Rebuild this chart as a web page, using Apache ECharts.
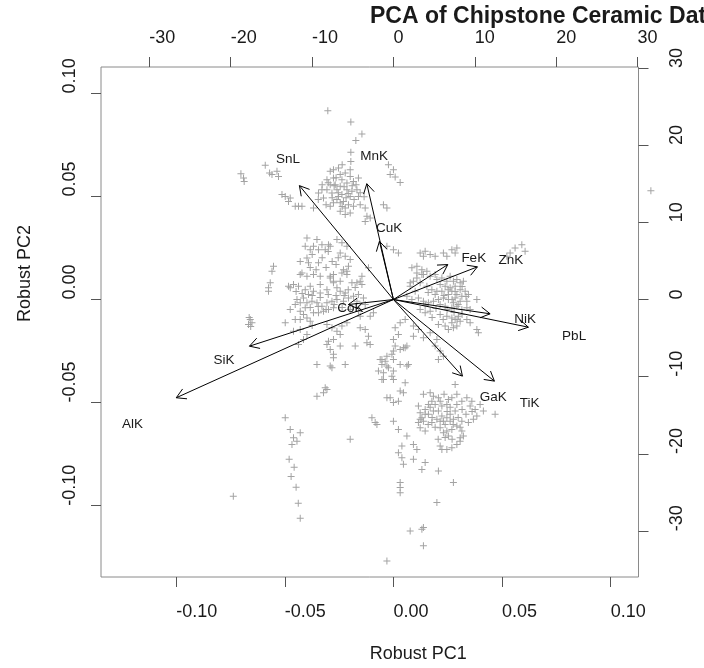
<!DOCTYPE html>
<html>
<head>
<meta charset="utf-8">
<script src="https://cdn.jsdelivr.net/npm/echarts@6/dist/echarts.min.js"></script>
<style>
html, body { margin: 0; padding: 0; background: #fff; }
#chart { width: 704px; height: 668px; }
</style>
</head>
<body>
<div id="chart"></div>
<script>
// axis ticks
const pcTicks = [-0.10, -0.05, 0, 0.05, 0.10]
const loadTicks = [-30, -20, -10, 0, 10, 20, 30]
const pcLim = [-0.1346, 0.1128]
const loadRatio = 267

// variable loadings (top / right axes)
const elements = ['SnL', 'MnK', 'CuK', 'FeK', 'ZnK', 'NiK', 'PbL', 'GaK', 'TiK', 'CoK', 'SiK', 'AlK']
const loadPC1 = [-14.44, -4.09, -2.15, 8.35, 12.90, 14.85, 20.73, 10.60, 15.51, -6.91, -22.11, -33.36]
const loadPC2 = [18.44, 18.75, 9.43, 5.66, 5.29, -2.31, -4.48, -12.40, -13.21, -0.81, -7.55, -15.90]

// sample scores (bottom / left axes)
const upperGroup = [
  [-0.0302,0.0916],[-0.0196,0.0861],[-0.0145,0.0803],[-0.0173,0.0772],[-0.0196,0.0714],[-0.0196,0.0670],
  [-0.0590,0.0651],[-0.0570,0.0614],[-0.0559,0.0606],[-0.0536,0.0622],[-0.0529,0.0597],
  [-0.0702,0.0610],[-0.0690,0.0590],[-0.0687,0.0573],
  [-0.0023,0.0654],[0.0000,0.0630],[-0.0015,0.0606],[0.0008,0.0594],[0.0031,0.0568],
  [-0.0291,0.0622],[-0.0253,0.0638],[-0.0245,0.0606],[-0.0306,0.0581],[-0.0276,0.0590],[-0.0237,0.0581],
  [-0.0214,0.0565],[-0.0184,0.0573],[-0.0161,0.0590],
  [-0.0306,0.0533],[-0.0283,0.0517],[-0.0260,0.0533],[-0.0237,0.0509],[-0.0214,0.0533],[-0.0191,0.0525],[-0.0168,0.0533],
  [-0.0260,0.0485],[-0.0230,0.0476],[-0.0207,0.0460],[-0.0184,0.0452],[-0.0291,0.0452],[-0.0245,0.0428],[-0.0222,0.0412],[-0.0199,0.0420],
  [-0.0322,0.0493],[-0.0345,0.0517],[-0.0368,0.0444],[-0.0161,0.0500],[-0.0153,0.0460],[-0.0130,0.0444],
  [-0.0276,0.0630],[-0.0222,0.0614],[-0.0199,0.0597],[-0.0268,0.0557],[-0.0245,0.0549],[-0.0291,0.0557],
  [-0.0329,0.0533],[-0.0199,0.0500],[-0.0253,0.0500],[-0.0222,0.0444],[-0.0276,0.0469],
  [-0.0513,0.0509],[-0.0498,0.0500],[-0.0475,0.0493],[-0.0452,0.0452],[-0.0437,0.0452],[-0.0421,0.0452],[-0.0483,0.0476],
  [-0.0046,0.0460],[-0.0030,0.0444],[-0.0122,0.0404],[-0.0130,0.0379],[-0.0107,0.0396]
]
const midLeftGroup = [
  [-0.0398,0.0299],[-0.0352,0.0291],[-0.0329,0.0266],[-0.0299,0.0266],[-0.0368,0.0258],[-0.0406,0.0258],
  [-0.0383,0.0242],[-0.0345,0.0242],[-0.0314,0.0242],[-0.0291,0.0258],[-0.0260,0.0291],[-0.0237,0.0275],
  [-0.0214,0.0258],[-0.0245,0.0226],[-0.0222,0.0210],[-0.0199,0.0194],[-0.0207,0.0161],[-0.0230,0.0145],[-0.0214,0.0137],
  [-0.0398,0.0202],[-0.0391,0.0178],[-0.0345,0.0178],[-0.0552,0.0161],[-0.0559,0.0137],[-0.0421,0.0129],
  [-0.0398,0.0113],[-0.0368,0.0121],[-0.0337,0.0113],[-0.0291,0.0113],[-0.0276,0.0089],[-0.0245,0.0089],
  [-0.0168,0.0081],[-0.0145,0.0113],[-0.0115,0.0154],
  [-0.0383,0.0064],[-0.0437,0.0064],[-0.0475,0.0057],[-0.0567,0.0081],[-0.0575,0.0057],
  [-0.0575,0.0040],[-0.0483,0.0064],[-0.0460,0.0073],[-0.0429,0.0121],[-0.0337,0.0073],[-0.0291,0.0105],
  [-0.0276,0.0121],[-0.0237,0.0129],[-0.0214,0.0121],[-0.0191,0.0081],[-0.0153,0.0089],[-0.0145,0.0073],
  [-0.0276,0.0081],[-0.0260,0.0057],[-0.0245,0.0040],[-0.0222,0.0032],[-0.0306,0.0048],[-0.0337,0.0032],
  [-0.0368,0.0040],[-0.0391,0.0024],[-0.0414,0.0008],[-0.0444,0.0000],[-0.0452,-0.0024],[-0.0429,-0.0016],
  [-0.0398,-0.0016],[-0.0375,-0.0008],[-0.0352,-0.0016],[-0.0329,-0.0032],[-0.0306,-0.0016],[-0.0283,-0.0008],
  [-0.0260,0.0000],[-0.0230,-0.0008],[-0.0207,0.0008],[-0.0184,0.0016],[-0.0161,0.0024],[-0.0138,0.0008],[-0.0168,-0.0008],
  [-0.0429,-0.0057],[-0.0414,-0.0073],[-0.0398,-0.0089],[-0.0383,-0.0105],[-0.0368,-0.0064],[-0.0345,-0.0064],
  [-0.0322,-0.0057],[-0.0299,-0.0048],[-0.0276,-0.0040],[-0.0161,-0.0057],[-0.0153,-0.0081],[-0.0107,-0.0081],
  [-0.0092,-0.0064],[-0.0406,-0.0040],[-0.0452,-0.0097],[-0.0498,-0.0113],[-0.0460,-0.0154],[-0.0429,-0.0145],
  [-0.0398,-0.0170],[-0.0414,-0.0194],[-0.0437,-0.0218],
  [-0.0306,-0.0121],[-0.0283,-0.0137],[-0.0260,-0.0154],[-0.0237,-0.0129],[-0.0214,-0.0113],[-0.0245,-0.0170],
  [-0.0276,-0.0194],[-0.0299,-0.0202],[-0.0306,-0.0218],[-0.0291,-0.0242],[-0.0276,-0.0266],[-0.0276,-0.0282],
  [-0.0245,-0.0226],[-0.0176,-0.0226],[-0.0153,-0.0137],[-0.0130,-0.0145],[-0.0115,-0.0178],[-0.0122,-0.0210],[-0.0107,-0.0218],
  [-0.0659,-0.0097],[-0.0651,-0.0113],[-0.0667,-0.0121],[-0.0664,-0.0087],[-0.0657,-0.0131],
  [-0.0352,-0.0315],[-0.0291,-0.0323],[-0.0283,-0.0331],[-0.0222,-0.0315]
]
const lowerLeftGroup = [
  [-0.0352,-0.0469],[-0.0322,-0.0452],[-0.0306,-0.0436],[-0.0314,-0.0428],[-0.0498,-0.0573],[-0.0475,-0.0630],
  [-0.0460,-0.0670],[-0.0444,-0.0687],[-0.0429,-0.0646],[-0.0467,-0.0703],[-0.0199,-0.0678],[-0.0099,-0.0573],
  [-0.0084,-0.0597],[-0.0076,-0.0606],
  [-0.0737,-0.0954],[-0.0480,-0.0775],[-0.0457,-0.0814],[-0.0471,-0.0858],[-0.0448,-0.0911],[-0.0438,-0.0988],[-0.0429,-0.1061]
]
const rightGroup = [
  [-0.0030,0.0258],[0.0000,0.0242],[0.0023,0.0226],[0.0123,0.0226],[0.0138,0.0210],[0.0085,0.0154],[0.0108,0.0129],
  [0.0131,0.0121],[0.0154,0.0137],[0.0108,0.0105],[0.0077,0.0081],
  [0.0146,0.0234],[0.0169,0.0218],[0.0192,0.0210],[0.0230,0.0226],[0.0246,0.0210],[0.0269,0.0242],[0.0284,0.0226],[0.0292,0.0250],
  [0.0560,0.0250],[0.0591,0.0266],[0.0606,0.0234],[0.0537,0.0226],[0.0522,0.0210],
  [0.0108,0.0161],[0.0131,0.0145],[0.0138,0.0121],[0.0169,0.0113],[0.0192,0.0121],[0.0200,0.0097],[0.0223,0.0105],
  [0.0246,0.0089],[0.0261,0.0113],[0.0276,0.0089],[0.0292,0.0097],[0.0307,0.0081],[0.0322,0.0089],[0.0238,0.0064],
  [0.0261,0.0057],[0.0284,0.0064],[0.0307,0.0048],[0.0330,0.0040],[0.0223,0.0040],[0.0200,0.0040],[0.0177,0.0048],
  [0.0154,0.0064],[0.0123,0.0081],[0.0092,0.0089],[0.0077,0.0064],[0.0100,0.0040],[0.0062,0.0016],[0.0085,0.0000],
  [0.0115,0.0008],[0.0138,-0.0008],[0.0161,-0.0016],[0.0184,-0.0008],[0.0207,0.0000],[0.0230,0.0008],[0.0253,0.0000],
  [0.0284,0.0008],[0.0307,-0.0008],[0.0338,-0.0008],[0.0384,0.0000],[0.0345,0.0024],[0.0238,-0.0032],[0.0269,-0.0040],
  [0.0292,-0.0032],[0.0315,-0.0048],[0.0338,-0.0040],[0.0123,-0.0048],[0.0146,-0.0064],[0.0169,-0.0057],[0.0215,-0.0073],
  [0.0246,-0.0081],[0.0269,-0.0089],[0.0284,-0.0097],[0.0307,-0.0105],[0.0338,-0.0097],[0.0353,-0.0113],[0.0384,-0.0145],
  [0.0391,-0.0161],[0.0207,-0.0121],[0.0238,-0.0129],[0.0253,-0.0145],[0.0276,-0.0137],[0.0292,-0.0129],[0.0092,-0.0129],
  [0.0115,-0.0145],[0.0031,-0.0113],[0.0054,-0.0097],[0.0008,-0.0137],[0.0023,-0.0170],[0.0000,-0.0194],[0.0008,-0.0226],
  [0.0031,-0.0242],[0.0054,-0.0234],[0.0092,-0.0178],[0.0138,-0.0186],[0.0169,-0.0161],[0.0200,-0.0194],[0.0192,-0.0226],
  [0.0215,-0.0250],[0.0230,-0.0275],[0.0207,-0.0291],[-0.0030,-0.0275],[0.0000,-0.0291],[0.0031,-0.0315],[0.0062,-0.0323],
  [-0.0061,-0.0291],
  [0.0269,0.0040],[0.0292,0.0024],[0.0315,0.0016],[0.0253,0.0024],[0.0276,-0.0016],[0.0299,-0.0081],[0.0269,-0.0113]
]
const centerColumn = [
  [0.0000,-0.0250],[-0.0007,-0.0266],[-0.0038,-0.0299],[-0.0053,-0.0315],[-0.0030,-0.0323],[0.0069,-0.0315],
  [0.0046,-0.0234],[0.0062,-0.0226],[0.0000,-0.0347],[-0.0007,-0.0372],[-0.0046,-0.0388],[0.0000,-0.0388],
  [0.0054,-0.0404],[0.0031,-0.0444],[0.0046,-0.0452],[-0.0015,-0.0476],[0.0023,-0.0493],[0.0000,-0.0500],
  [-0.0053,-0.0291],[-0.0069,-0.0347],[-0.0046,-0.0355],[-0.0053,-0.0388],[-0.0023,-0.0331],[-0.0030,-0.0476]
]
const lowerRightGroup = [
  [0.0138,-0.0460],[0.0169,-0.0452],[0.0184,-0.0469],[0.0207,-0.0476],[0.0177,-0.0493],[0.0161,-0.0509],[0.0146,-0.0533],
  [0.0115,-0.0517],[0.0123,-0.0549],[0.0131,-0.0573],[0.0115,-0.0597],[0.0138,-0.0590],[0.0161,-0.0557],[0.0184,-0.0541],
  [0.0207,-0.0541],[0.0223,-0.0565],[0.0200,-0.0581],[0.0230,-0.0590],[0.0246,-0.0573],[0.0261,-0.0557],[0.0238,-0.0606],
  [0.0215,-0.0622],[0.0246,-0.0638],[0.0269,-0.0630],[0.0292,-0.0614],[0.0315,-0.0590],[0.0315,-0.0638],[0.0322,-0.0662],
  [0.0307,-0.0670],[0.0284,-0.0541],[0.0292,-0.0509],[0.0315,-0.0493],[0.0338,-0.0476],[0.0361,-0.0493],[0.0292,-0.0460],
  [0.0284,-0.0412],[0.0269,-0.0476],[0.0253,-0.0485],[0.0246,-0.0509],[0.0353,-0.0517],[0.0376,-0.0533],[0.0399,-0.0509],
  [0.0414,-0.0541],[0.0468,-0.0557],[0.0384,-0.0565],[0.0368,-0.0581],[0.0345,-0.0597],[0.0123,-0.0622],[0.0146,-0.0638],
  [0.0177,-0.0597],[0.0215,-0.0711],[0.0223,-0.0727],[0.0246,-0.0727],[0.0269,-0.0719],[0.0292,-0.0703],[0.0307,-0.0687],
  [0.0261,-0.0590],[0.0276,-0.0581],[0.0223,-0.0517],[0.0192,-0.0509],[0.0230,-0.0646],[0.0253,-0.0662]
]
const bottomTail = [
  [0.0000,-0.0590],[0.0023,-0.0630],[0.0062,-0.0662],[0.0092,-0.0703],[0.0108,-0.0727],[0.0039,-0.0711],[0.0023,-0.0743],
  [0.0039,-0.0767],[0.0046,-0.0799],[0.0092,-0.0775],[0.0131,-0.0824],[0.0146,-0.0791],[0.0207,-0.0832],[0.0276,-0.0888],
  [0.0031,-0.0888],[0.0031,-0.0912],[0.0031,-0.0937],[0.0200,-0.0985],[0.0138,-0.1106],[0.0131,-0.1114],[0.0077,-0.1123],
  [0.0138,-0.1195],[-0.0030,-0.1268]
]
// heavily overplotted cores of the clusters
const denseCores = [
  [-0.0300,0.0567],[-0.0264,0.0591],[-0.0227,0.0547],[-0.0190,0.0552],[-0.0254,0.0518],[-0.0218,0.0494],[-0.0181,0.0485],
  [-0.0282,0.0494],[-0.0310,0.0460],[-0.0236,0.0451],[-0.0208,0.0514],[-0.0172,0.0557],[-0.0273,0.0552],[-0.0245,0.0470],
  [-0.0153,0.0518],[-0.0328,0.0557],[-0.0199,0.0630],[-0.0236,0.0654],[-0.0135,0.0499],[-0.0346,0.0485],
  [0.0215,0.0073],[0.0252,0.0048],[0.0284,0.0039],[0.0316,0.0063],[0.0233,0.0019],[0.0270,0.0000],[0.0298,-0.0024],
  [0.0247,-0.0048],[0.0279,-0.0063],[0.0316,-0.0073],[0.0215,-0.0024],[0.0192,0.0024],[0.0160,0.0034],[0.0334,0.0015],
  [0.0353,-0.0048],[0.0293,-0.0097],[0.0229,-0.0097],[0.0178,-0.0087],[0.0146,-0.0029],[0.0196,-0.0044],
  [0.0146,-0.0557],[0.0178,-0.0572],[0.0215,-0.0591],[0.0247,-0.0543],[0.0275,-0.0606],[0.0307,-0.0620],[0.0192,-0.0620],
  [0.0160,-0.0606],[0.0238,-0.0669],[0.0270,-0.0678],[0.0206,-0.0678],[0.0334,-0.0557],[0.0362,-0.0543],[0.0298,-0.0572],
  [0.0169,-0.0523],[0.0215,-0.0494],[0.0261,-0.0523],[0.0316,-0.0533],[0.0233,-0.0460],[0.0123,-0.0581],
  [-0.0406,0.0048],[-0.0374,0.0019],[-0.0337,0.0010],[-0.0300,0.0024],[-0.0264,0.0019],[-0.0227,0.0019],[-0.0346,-0.0034],
  [-0.0310,-0.0048],[-0.0273,-0.0024],[-0.0236,-0.0039],[-0.0199,-0.0048],[-0.0383,-0.0039],[-0.0420,0.0029],[-0.0448,0.0039],
  [-0.0208,0.0048],[-0.0176,0.0058],[-0.0130,-0.0024],[-0.0475,-0.0048],[-0.0429,-0.0097],[-0.0374,-0.0126],
  [-0.0374,0.0218],[-0.0328,0.0203],[-0.0282,0.0184],[-0.0310,0.0155],[-0.0356,0.0145],[-0.0254,0.0203],[-0.0383,0.0155],
  [-0.0429,0.0184],[-0.0300,0.0233],[-0.0264,0.0170]
]
// lone point drawn just past the right frame, as in the source plot
const outliers = [[0.1185, 0.0528]]

const scores = [].concat(upperGroup, midLeftGroup, lowerLeftGroup, rightGroup, centerColumn, lowerRightGroup, bottomTail, denseCores, outliers)
const loadings = elements.map((name, i) => [loadPC1[i], loadPC2[i]])

const font = 'Liberation Sans'
const textColor = '#1a1a1a'
const tickColor = '#555'
const pointColor = '#a3a3a3'

const chart = echarts.init(document.getElementById('chart'))

const labelStyle = { fontFamily: font, fontSize: 18, color: textColor }
const noLine = { show: false, onZero: false }

// arrow to 0.8 * loading, label starting at the loading itself
const renderLoading = function (params, api) {
    const u = api.value(0)
    const v = api.value(1)
    const o = api.coord([0, 0])
    const tip = api.coord([u * 0.8, v * 0.8])
    const at = api.coord([u, v])
    const ang = Math.atan2(tip[1] - o[1], tip[0] - o[0])
    const len = 10.8
    const spread = Math.PI / 6
    const h1 = [tip[0] - len * Math.cos(ang - spread), tip[1] - len * Math.sin(ang - spread)]
    const h2 = [tip[0] - len * Math.cos(ang + spread), tip[1] - len * Math.sin(ang + spread)]
    return {
        type: 'group',
        children: [
            { type: 'text', x: at[0], y: at[1] + 2, style: { text: elements[params.dataIndex], fill: textColor, fontFamily: font, fontSize: 13.5, align: 'left', verticalAlign: 'middle' } },
            { type: 'line', shape: { x1: o[0], y1: o[1], x2: tip[0], y2: tip[1] }, style: { stroke: '#000', lineWidth: 1 } },
            { type: 'polyline', shape: { points: [h1, tip, h2] }, style: { stroke: '#000', fill: null, lineWidth: 1 } }
        ]
    }
}

const option = {
    animation: false,
    title: {
        text: 'PCA of Chipstone Ceramic Data',
        left: 370,
        top: 5,
        padding: 0,
        textStyle: { fontFamily: font, fontSize: 23, fontWeight: 'bold', color: textColor }
    },
    grid: { left: 101, right: 65.5, top: 67, bottom: 90, show: true, borderColor: '#8a8a8a', borderWidth: 1 },
    xAxis: [
        {
            type: 'value',
            position: 'bottom',
            min: pcLim[0],
            max: pcLim[1],
            name: 'Robust PC1',
            nameLocation: 'middle',
            nameGap: 68,
            nameTextStyle: { ...labelStyle, align: 'left', verticalAlign: 'top' },
            axisLine: noLine,
            splitLine: { show: false },
            axisTick: { show: true, length: 10, customValues: pcTicks, lineStyle: { color: tickColor } },
            axisLabel: { ...labelStyle, customValues: pcTicks, formatter: v => v.toFixed(2), align: 'left', margin: 26 }
        },
        {
            type: 'value',
            position: 'top',
            min: pcLim[0] * loadRatio,
            max: pcLim[1] * loadRatio,
            axisLine: noLine,
            splitLine: { show: false },
            axisTick: { show: true, length: 10, customValues: loadTicks, lineStyle: { color: tickColor } },
            axisLabel: { ...labelStyle, customValues: loadTicks, formatter: v => String(v), align: 'left', margin: 20 }
        }
    ],
    yAxis: [
        {
            type: 'value',
            position: 'left',
            min: pcLim[0],
            max: pcLim[1],
            name: 'Robust PC2',
            nameLocation: 'middle',
            nameGap: 67,
            nameRotate: 90,
            nameTextStyle: { ...labelStyle, align: 'left', verticalAlign: 'bottom' },
            axisLine: noLine,
            splitLine: { show: false },
            axisTick: { show: true, length: 10, customValues: pcTicks, lineStyle: { color: tickColor } },
            axisLabel: { ...labelStyle, customValues: pcTicks, formatter: v => v.toFixed(2), rotate: 90, align: 'left', verticalAlign: 'bottom', margin: 22 }
        },
        {
            type: 'value',
            position: 'right',
            min: pcLim[0] * loadRatio,
            max: pcLim[1] * loadRatio,
            axisLine: noLine,
            splitLine: { show: false },
            axisTick: { show: true, length: 10, customValues: loadTicks, lineStyle: { color: tickColor } },
            axisLabel: { ...labelStyle, customValues: loadTicks, formatter: v => String(v), rotate: 90, align: 'left', verticalAlign: 'top', margin: 30 }
        }
    ],
    series: [
        {
            type: 'scatter',
            xAxisIndex: 0,
            yAxisIndex: 0,
            symbol: 'path://M3,0h1v7h-1zM0,3h7v1h-7z',
            symbolSize: 7,
            itemStyle: { color: pointColor, opacity: 1 },
            silent: true,
            clip: false,
            data: scores
        },
        {
            type: 'custom',
            xAxisIndex: 1,
            yAxisIndex: 1,
            renderItem: renderLoading,
            silent: true,
            clip: false,
            data: loadings,
            z: 3
        }
    ]
}
chart.setOption(option)
</script>
</body>
</html>
